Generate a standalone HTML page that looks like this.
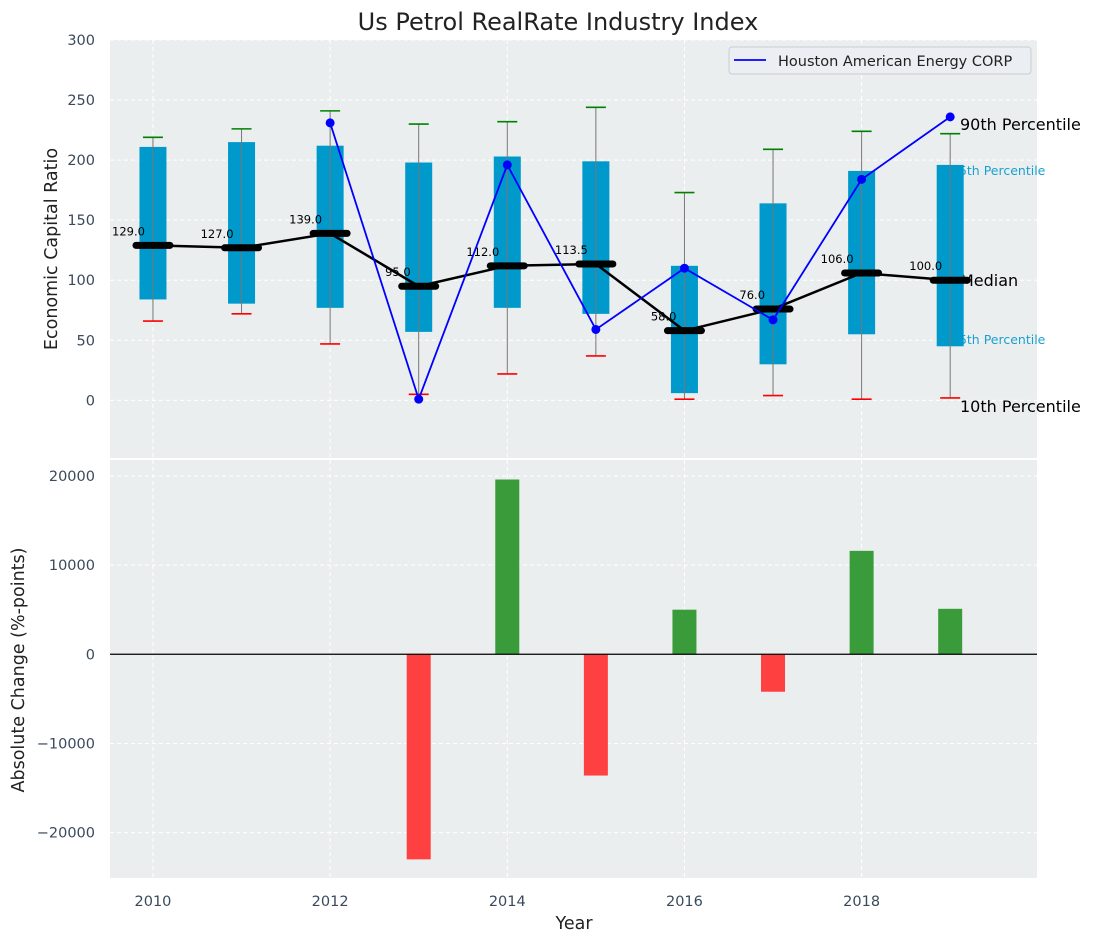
<!DOCTYPE html>
<html><head><meta charset="utf-8"><style>
body{margin:0;background:#fff;}
svg{display:block;font-family:"DejaVu Sans","Liberation Sans",sans-serif;}
</style></head><body>
<svg id="c" width="1095" height="942" xmlns="http://www.w3.org/2000/svg"></svg>
<script>
const years=[2010,2011,2012,2013,2014,2015,2016,2017,2018,2019];
const boxHigh=[211,215,212,198,203,199,112,164,191,196];
const boxLow=[84,80.5,77,57,77,72,6,30,55,45];
const whiskHigh=[219,226,241,230,232,244,173,209,224,222];
const whiskLow=[66,72,47,5,22,37,1,4,1,2];
const medians=[129,127,139,95,112,113.5,58,76,106,100];
const compYears=[2012,2013,2014,2015,2016,2017,2018,2019];
const compVals=[231,1,196,59,110,67,184,236];
const chgYears=[2013,2014,2015,2016,2017,2018,2019];
const chgVals=[-23000,19600,-13600,5000,-4200,11600,5100];
const topTicks=[0,50,100,150,200,250,300];
const botTicks=[-20000,-10000,0,10000,20000];
const xTicks=[2010,2012,2014,2016,2018];

const NS="http://www.w3.org/2000/svg";
const svg=document.getElementById('c');
function mk(t,a,p,txt){const e=document.createElementNS(NS,t);for(const k in a)e.setAttribute(k,a[k]);if(txt!==undefined)e.textContent=txt;(p||svg).appendChild(e);return e;}
const L=110,R=1037,T1=40,B1=458,T2=459,B2=878;
const x=v=>L+(v-2009.515)/(2019.98-2009.515)*(R-L);
const y1=v=>T1+(300-v)/(300+48)*(B1-T1);
const y2=v=>T2+(21900-v)/(21900+25090)*(B2-T2);

let e;
e=mk('rect',{x:L,y:T1,width:R-L,height:B1-T1,fill:'#ebeeef'});


e=mk('rect',{x:L,y:T2+1,width:R-L,height:B2-T2-1,fill:'#ebeeef'});



xTicks.forEach(v=>{
 e=mk('line',{x1:x(v),x2:x(v),y1:T1,y2:B1,stroke:'#fff','stroke-dasharray':'4,3','stroke-width':1});
 
 
 e=mk('line',{x1:x(v),x2:x(v),y1:T2+1,y2:B2,stroke:'#fff','stroke-dasharray':'4,3','stroke-width':1});
 
 
 e=mk('text',{x:x(v),y:906,'text-anchor':'middle','font-size':14.5,fill:'#3a4a5c'},null,v);
 
 
});
topTicks.forEach(v=>{
 e=mk('line',{x1:L,x2:R,y1:y1(v),y2:y1(v),stroke:'#fff','stroke-dasharray':'4,3'});
 
 
 e=mk('text',{x:95,y:y1(v)+5,'text-anchor':'end','font-size':14.5,fill:'#3a4a5c'},null,v);
 
 
});
botTicks.forEach(v=>{
 e=mk('line',{x1:L,x2:R,y1:y2(v),y2:y2(v),stroke:'#fff','stroke-dasharray':'4,3'});
 
 
 e=mk('text',{x:95,y:y2(v)+5,'text-anchor':'end','font-size':14.5,fill:'#3a4a5c'},null,(v<0?'\u2212'+(-v):v));
 
 
});

[['90th Percentile',130,16,'#000',960],['75th Percentile',175,12.5,'#1aa0d0',951],['Median',286,16,'#000',960],['25th Percentile',344,12.5,'#1aa0d0',951],['10th Percentile',412,16,'#000',960]].forEach(a=>{
 e=mk('text',{x:a[4],y:a[1],'font-size':a[2],fill:a[3]},null,a[0]);
 
 
});

years.forEach((yr,i)=>{
 const cx=x(yr);
 e=mk('rect',{x:cx-13.5,y:y1(boxHigh[i]),width:27,height:y1(boxLow[i])-y1(boxHigh[i]),fill:'#0099cc'});
 
 
 e=mk('line',{x1:cx,x2:cx,y1:y1(whiskHigh[i]),y2:y1(whiskLow[i]),stroke:'#777','stroke-width':1});
 
 
 e=mk('line',{x1:cx-10,x2:cx+10,y1:y1(whiskHigh[i]),y2:y1(whiskHigh[i]),stroke:'green','stroke-width':1.6});
 
 
 e=mk('line',{x1:cx-10,x2:cx+10,y1:y1(whiskLow[i]),y2:y1(whiskLow[i]),stroke:'red','stroke-width':1.6});
 
 
});
e=mk('polyline',{points:years.map((yr,i)=>x(yr)+','+y1(medians[i])).join(' '),fill:'none',stroke:'#000','stroke-width':2.5});


years.forEach((yr,i)=>{
 const cx=x(yr),cy=y1(medians[i]);
 e=mk('line',{x1:cx-17,x2:cx+17,y1:cy,y2:cy,stroke:'#000','stroke-width':7,'stroke-linecap':'round'});
 
 
 e=mk('text',{x:cx-8,y:cy-10,'text-anchor':'end','font-size':11.5,fill:'#000'},null,medians[i].toFixed(1));
 
 
});
e=mk('polyline',{points:compYears.map((yr,i)=>x(yr)+','+y1(compVals[i])).join(' '),fill:'none',stroke:'#0000ff','stroke-width':1.8});


compYears.forEach((yr,i)=>{
 e=mk('circle',{cx:x(yr),cy:y1(compVals[i]),r:4.5,fill:'#0000ff'});
 
 
});

const lg=mk('g',{});


mk('rect',{x:729,y:47,width:302,height:27,rx:3,fill:'#ebeef2',stroke:'#ccc'},lg);
mk('line',{x1:734,x2:766,y1:60,y2:60,stroke:'#0000ff','stroke-width':1.8},lg);
e=mk('text',{x:778,y:66,'font-size':14.5,fill:'#222'},lg,'Houston American Energy CORP');



chgYears.forEach((yr,i)=>{
 const v=chgVals[i];
 e=mk('rect',{x:x(yr)-12,y:Math.min(y2(v),y2(0)),width:24,height:Math.abs(y2(v)-y2(0)),fill:v>=0?'#3a9b3a':'#ff4040'});
 
 
});
e=mk('line',{x1:L,x2:R,y1:y2(0),y2:y2(0),stroke:'#000','stroke-width':1.2});



e=mk('text',{x:558,y:30,'text-anchor':'middle','font-size':24,fill:'#222'},null,'Us Petrol RealRate Industry Index');


e=mk('text',{x:0,y:0,'text-anchor':'middle','font-size':17.5,fill:'#222',transform:'translate(57,249) rotate(-90)'},null,'Economic Capital Ratio');


e=mk('text',{x:0,y:0,'text-anchor':'middle','font-size':17.5,fill:'#222',transform:'translate(24,670) rotate(-90)'},null,'Absolute Change (%-points)');


e=mk('text',{x:574,y:929,'text-anchor':'middle','font-size':17.5,fill:'#222'},null,'Year');


</script>
</body></html>
